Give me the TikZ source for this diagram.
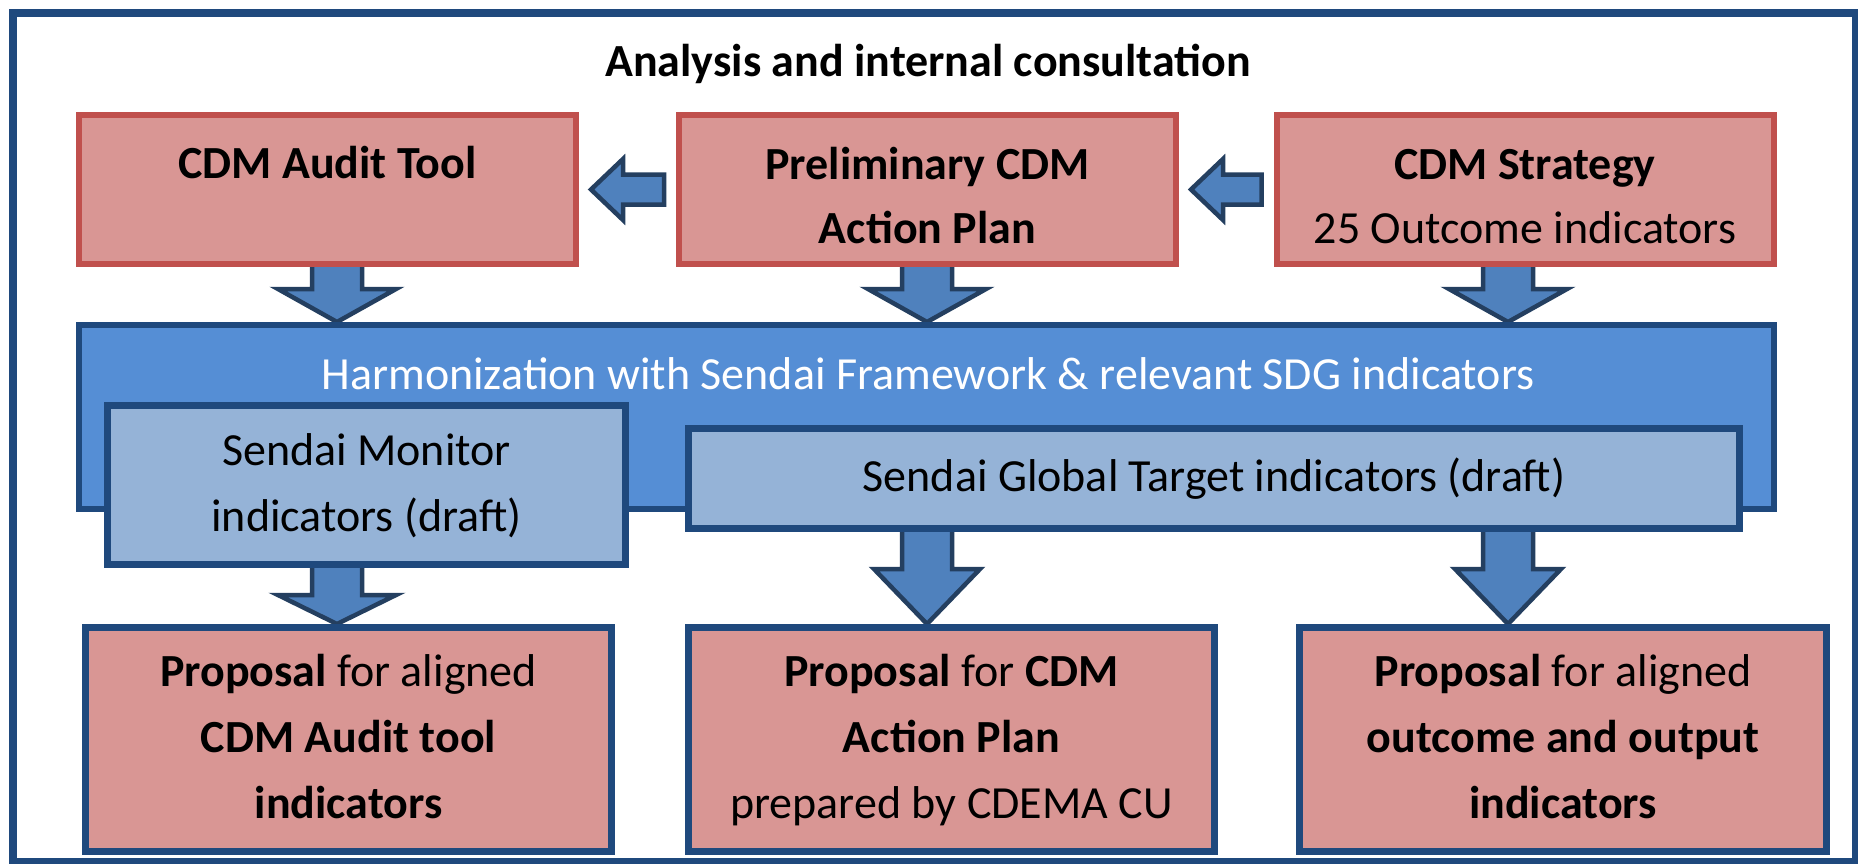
\documentclass[tikz,border=0pt]{standalone}
\usepackage{fontspec}
\setmainfont{Carlito}
\usetikzlibrary{calc,backgrounds}

\definecolor{redfill}{HTML}{D99694}
\definecolor{redline}{HTML}{C0504D}
\definecolor{harmfill}{HTML}{558ED5}
\definecolor{sendaifill}{HTML}{95B3D7}
\definecolor{navy}{HTML}{1F497D}
\definecolor{arrowfill}{HTML}{4F81BD}
\definecolor{arrowline}{HTML}{243F60}

% one full line: 0.7 above and 0.3 below the baseline
\newcommand\ls{\rule[-.3\baselineskip]{0pt}{\baselineskip}}

\tikzset{
  txt/.style={font=\fontsize{46}{64}\selectfont, align=center, inner sep=0pt},
  redbox/.style={draw=redline, fill=redfill, line width=6pt,
    minimum width=497pt, minimum height=149pt, inner sep=0pt},
  sendaibox/.style={txt, font=\fontsize{46}{66}\selectfont, draw=navy, fill=sendaifill, line width=7pt},
  propbox/.style={txt, font=\fontsize{46}{66}\selectfont, draw=navy, fill=redfill, line width=7pt,
    minimum width=526pt, minimum height=224pt},
  blockarrow/.style={fill=arrowfill, draw=arrowline, line width=4.5pt, line join=miter}
}

% block arrow pointing down: from, to, half shaft, half head, head length
\newcommand\dnblock[5]{%
  \draw[blockarrow] let \p1=(#1), \p2=(#2) in
    (\x1-#3,\y1+8pt) -- (\x1-#3,\y2+#5) -- (\x1-#4,\y2+#5) -- (\x1,\y2)
    -- (\x1+#4,\y2+#5) -- (\x1+#3,\y2+#5) -- (\x1+#3,\y1+8pt) -- cycle;}
% block arrow pointing left: from, to, half shaft, half head, head length
\newcommand\ltblock[5]{%
  \draw[blockarrow] let \p1=(#1), \p2=(#2) in
    (\x1,\y1+#3) -- (\x2+#5,\y1+#3) -- (\x2+#5,\y1+#4) -- (\x2,\y1)
    -- (\x2+#5,\y1-#4) -- (\x2+#5,\y1-#3) -- (\x1,\y1-#3) -- cycle;}

\begin{document}
\begin{tikzpicture}[x=1pt,y=-1pt]
  \useasboundingbox (0,0) rectangle (1858,864);
  \draw[navy, line width=8pt] (13,13) rectangle (1856,862);
  \node[txt, font=\fontsize{46}{64}\selectfont\bfseries, anchor=base] (title) at (928,77) {Analysis and internal consultation};

  % top row
  \node[redbox] (audit) at (327.5,189.5) {};
  \node[redbox] (prelim) at (927.5,189.5) {};
  \node[redbox] (strategy) at (1525,189.5) {};
  \node[txt, anchor=north] (auditT) at ([yshift=-22pt]audit.north) {\ls\textbf{CDM Audit Tool}};
  \node[txt, anchor=north] (prelimT) at ([yshift=-22pt]prelim.north) {\ls\textbf{Preliminary CDM}\\\ls\textbf{Action Plan}};
  \node[txt, anchor=north] (strategyT) at ([yshift=-22pt]strategy.north) {\ls\textbf{CDM Strategy}\\\ls 25 Outcome indicators};

  % harmonization
  \node[draw=navy, fill=harmfill, line width=6pt, minimum width=1695pt, minimum height=184pt] (harm) at (926.5,417) {};
  \node[txt, text=white, anchor=base] (harmT) at (928,389) {Harmonization with Sendai Framework \& relevant SDG indicators};
  \node[sendaibox, minimum width=518pt, minimum height=159pt] (monitor) at (366.5,485) {\ls Sendai Monitor\\\ls indicators (draft)};
  \node[sendaibox, minimum width=1051pt, minimum height=100pt] (global) at (1214,478.5) {\ls Sendai Global Target indicators (draft)};

  % proposals
  \node[propbox] (auditprop) at (348.5,739.5) {\ls\textbf{Proposal} for aligned\\\ls\textbf{CDM Audit tool}\\\ls\textbf{indicators}};
  \node[propbox] (planprop) at (951.5,739.5) {\ls\textbf{Proposal} for \textbf{CDM}\\\ls\textbf{Action Plan}\\\ls prepared by CDEMA CU};
  \node[propbox, minimum width=527pt] (outprop) at (1563,739.5) {\ls\textbf{Proposal} for aligned\\\ls\textbf{outcome and output}\\\ls\textbf{indicators}};

  \coordinate (colA) at (337,0);
  \coordinate (colB) at (927,0);
  \coordinate (colC) at (1508,0);

  \begin{scope}[on background layer]
    \fill[white] (0,0) rectangle (1858,864);
    \ltblock{[xshift=-12pt]prelim.west}{[xshift=12pt]audit.east}{15pt}{30.5pt}{32pt}
    \ltblock{[xshift=-12pt]strategy.west}{[xshift=12pt]prelim.east}{15pt}{30.5pt}{32pt}
    \dnblock{audit.south -| colA}{harm.north}{25pt}{59pt}{33pt}
    \dnblock{prelim.south -| colB}{harm.north}{25pt}{59pt}{33pt}
    \dnblock{strategy.south -| colC}{harm.north}{25pt}{59pt}{33pt}
    \dnblock{monitor.south -| colA}{auditprop.north}{25pt}{59pt}{29pt}
    \dnblock{global.south -| colB}{planprop.north}{25pt}{53pt}{55pt}
    \dnblock{global.south -| colC}{outprop.north}{25pt}{53pt}{55pt}
  \end{scope}
\end{tikzpicture}
\end{document}
